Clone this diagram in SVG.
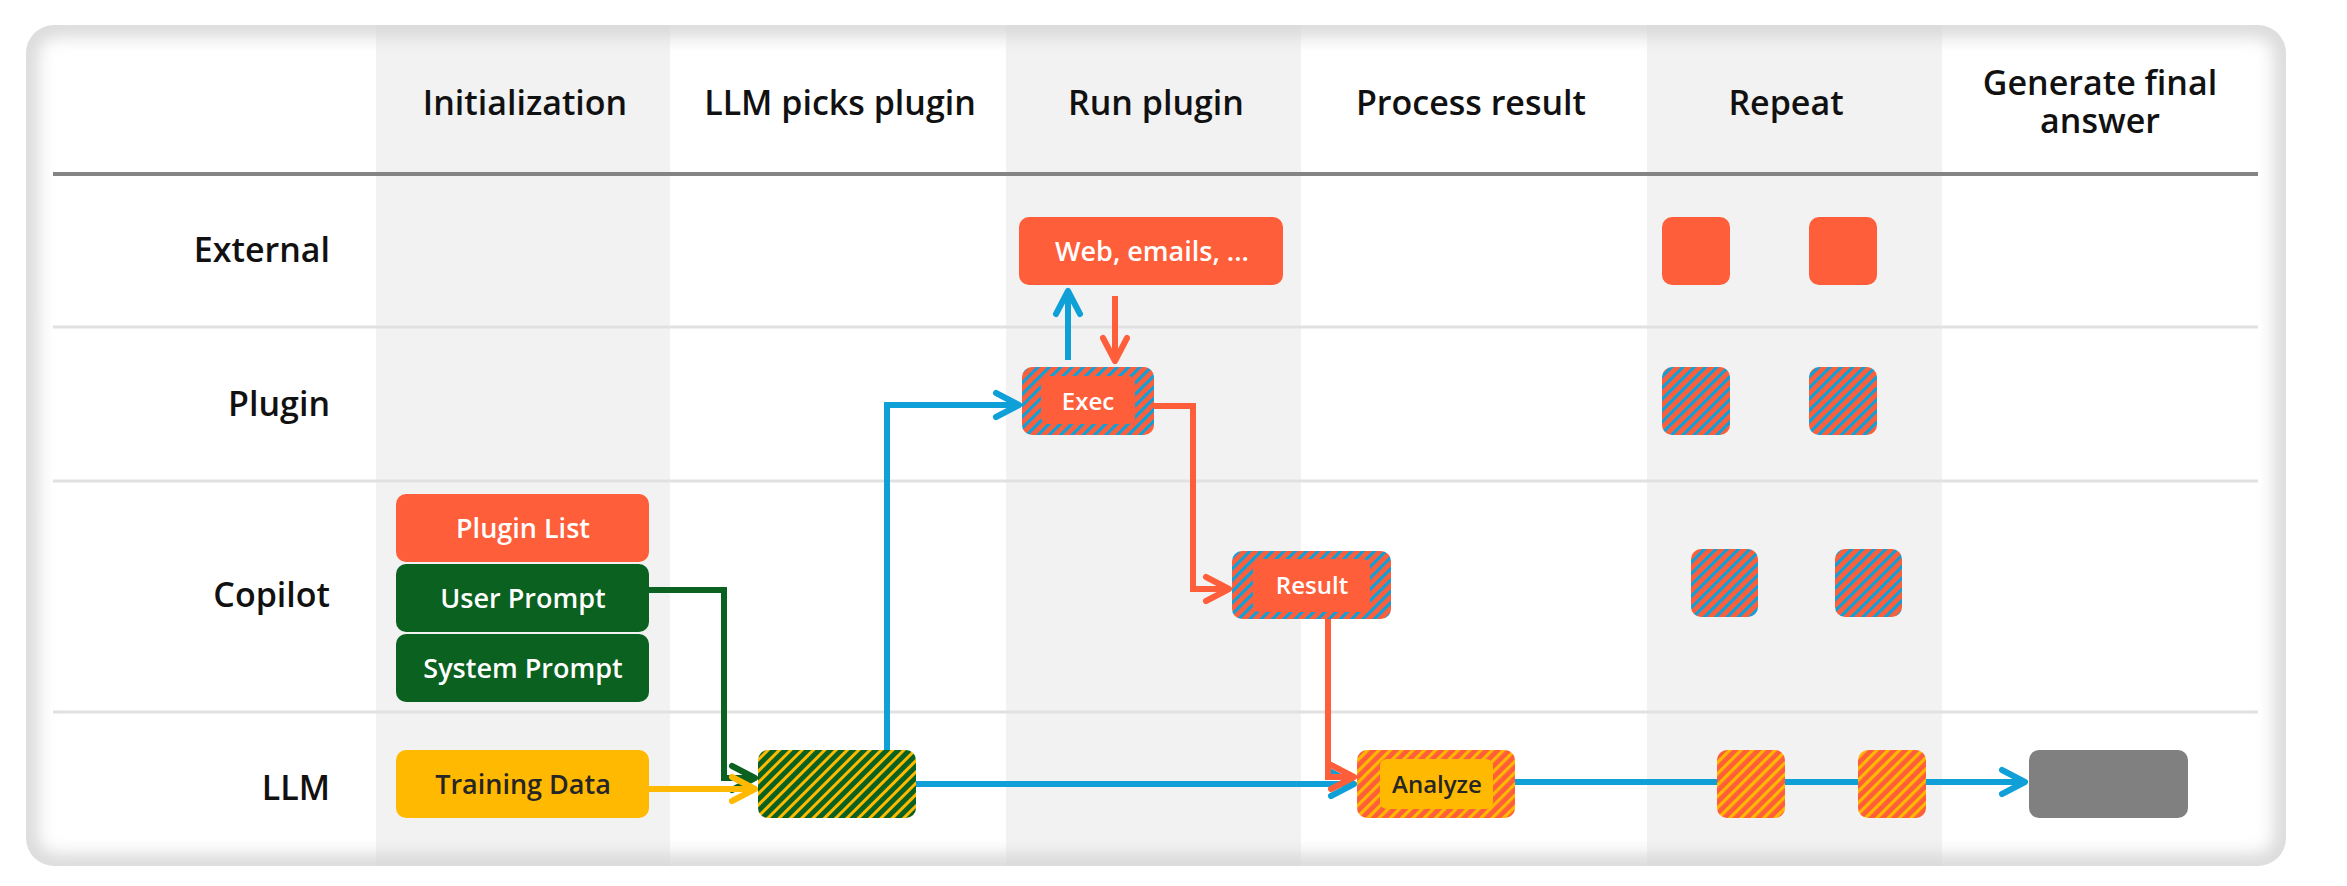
<svg xmlns="http://www.w3.org/2000/svg" width="2347" height="886" viewBox="0 0 2347 886">
<style>
.t{font-family:"Open Sans","Noto Sans","Liberation Sans",sans-serif;font-weight:600}
.hdr{font-size:34px;fill:#111;text-anchor:middle}
.row{font-size:34px;fill:#111;text-anchor:end}
.lbl{font-size:27px;fill:#fff;text-anchor:middle}
.sm{font-size:24px}
.dk{fill:#262626}
.col{fill:#f2f2f2}
.div{stroke:#e1e1e1;stroke-width:3;fill:none}
.hl{stroke:#848484;stroke-width:4;fill:none}
.c{fill:none;stroke-width:6}
.or{fill:#FF5E3A}
.gr{fill:#0B6120}
.ye{fill:#FFB900}
.gy{fill:#808080}
</style>
<defs>
<clipPath id="cardClip"><rect x="26" y="25" width="2260" height="841" rx="28"/></clipPath>
<filter id="blur" x="-5%" y="-8%" width="110%" height="116%"><feGaussianBlur stdDeviation="9"/></filter>
<pattern id="hGreen" patternUnits="userSpaceOnUse" width="8" height="8" patternTransform="rotate(45)"><rect width="8" height="8" fill="#0B6120"/><rect width="3" height="8" fill="#FFB900"/></pattern>
<pattern id="hBlue" patternUnits="userSpaceOnUse" width="8" height="8" patternTransform="rotate(45)"><rect width="8" height="8" fill="#FF5E3A"/><rect width="3.2" height="8" fill="#10A0D8"/></pattern>
<pattern id="hYellow" patternUnits="userSpaceOnUse" width="8" height="8" patternTransform="rotate(45)"><rect width="8" height="8" fill="#FF5E3A"/><rect width="3.2" height="8" fill="#FFB900"/></pattern>
<marker id="aBlue" markerUnits="userSpaceOnUse" viewBox="-30 -16 36 32" refX="0" refY="0" markerWidth="36" markerHeight="32" orient="auto"><path d="M-23 -12 L0 0 L-23 12" fill="none" stroke="#10A0D8" stroke-width="6" stroke-linecap="round" stroke-linejoin="round"/></marker>
<marker id="aOrange" markerUnits="userSpaceOnUse" viewBox="-30 -16 36 32" refX="0" refY="0" markerWidth="36" markerHeight="32" orient="auto"><path d="M-23 -12 L0 0 L-23 12" fill="none" stroke="#FF5E3A" stroke-width="6" stroke-linecap="round" stroke-linejoin="round"/></marker>
<marker id="aGreen" markerUnits="userSpaceOnUse" viewBox="-30 -16 36 32" refX="0" refY="0" markerWidth="36" markerHeight="32" orient="auto"><path d="M-23 -12 L0 0 L-23 12" fill="none" stroke="#0B6120" stroke-width="6" stroke-linecap="round" stroke-linejoin="round"/></marker>
<marker id="aYellow" markerUnits="userSpaceOnUse" viewBox="-30 -16 36 32" refX="0" refY="0" markerWidth="36" markerHeight="32" orient="auto"><path d="M-23 -12 L0 0 L-23 12" fill="none" stroke="#FFB900" stroke-width="6" stroke-linecap="round" stroke-linejoin="round"/></marker>
</defs>

<g id="card">
<rect x="26" y="25" width="2260" height="841" rx="28" fill="#fff"/>
<g clip-path="url(#cardClip)">
<rect class="col" x="376" y="25" width="294" height="841"/>
<rect class="col" x="1006" y="25" width="295" height="841"/>
<rect class="col" x="1647" y="25" width="295" height="841"/>
<rect x="26" y="25" width="2260" height="841" rx="28" fill="none" stroke="#d6d6d6" stroke-width="22" filter="url(#blur)"/>
</g>
</g>

<g id="grid">
<path class="hl" d="M53 174 H2258"/>
<path class="div" d="M53 327 H2258 M53 481 H2258 M53 712 H2258"/>
</g>

<g id="headers" class="t hdr">
<text x="525" y="115">Initialization</text>
<text x="840" y="115">LLM picks plugin</text>
<text x="1156" y="115">Run plugin</text>
<text x="1471" y="115">Process result</text>
<text x="1786" y="115">Repeat</text>
<text x="2100" y="95">Generate final<tspan x="2100" dy="38">answer</tspan></text>
</g>

<g id="rowlabels" class="t row">
<text x="330" y="262">External</text>
<text x="330" y="416">Plugin</text>
<text x="330" y="607">Copilot</text>
<text x="330" y="800">LLM</text>
</g>

<g id="connectors">
<path class="c" stroke="#0B6120" d="M649 590 H724 V778 H755" marker-end="url(#aGreen)"/>
<path class="c" stroke="#FFB900" d="M649 789 H755" marker-end="url(#aYellow)"/>
<path class="c" stroke="#10A0D8" d="M887 760 V405 H1019" marker-end="url(#aBlue)"/>
<path class="c" stroke="#10A0D8" d="M1068 360 V291" marker-end="url(#aBlue)"/>
<path class="c" stroke="#FF5E3A" d="M1115 296 V361" marker-end="url(#aOrange)"/>
<path class="c" stroke="#FF5E3A" d="M1150 406 H1193 V589 H1229" marker-end="url(#aOrange)"/>
<path class="c" stroke="#10A0D8" d="M905 784 H1354" marker-end="url(#aBlue)"/>
<path class="c" stroke="#FF5E3A" d="M1328 615 V777 H1354" marker-end="url(#aOrange)"/>
<path class="c" stroke="#10A0D8" d="M1510 782 H2025" marker-end="url(#aBlue)"/>
</g>

<g id="node-web">
<rect class="or" x="1019" y="217" width="264" height="68" rx="10"/>
<text class="t lbl" x="1152" y="261">Web, emails, ...</text>
</g>
<g id="node-ext-repeat-1"><rect class="or" x="1662" y="217" width="68" height="68" rx="10"/></g>
<g id="node-ext-repeat-2"><rect class="or" x="1809" y="217" width="68" height="68" rx="10"/></g>

<g id="node-exec">
<rect x="1022" y="367" width="132" height="68" rx="10" fill="url(#hBlue)"/>
<rect class="or" x="1041" y="376" width="94" height="48" rx="7"/>
<text class="t lbl sm" x="1088" y="410">Exec</text>
</g>
<g id="node-plugin-repeat-1"><rect x="1662" y="367" width="68" height="68" rx="10" fill="url(#hBlue)"/></g>
<g id="node-plugin-repeat-2"><rect x="1809" y="367" width="68" height="68" rx="10" fill="url(#hBlue)"/></g>

<g id="node-plugin-list">
<rect class="or" x="396" y="494" width="253" height="68" rx="10"/>
<text class="t lbl" x="523" y="538">Plugin List</text>
</g>
<g id="node-user-prompt">
<rect class="gr" x="396" y="564" width="253" height="68" rx="10"/>
<text class="t lbl" x="523" y="608">User Prompt</text>
</g>
<g id="node-system-prompt">
<rect class="gr" x="396" y="634" width="253" height="68" rx="10"/>
<text class="t lbl" x="523" y="678">System Prompt</text>
</g>

<g id="node-result">
<rect x="1232" y="551" width="159" height="68" rx="10" fill="url(#hBlue)"/>
<rect class="or" x="1253" y="559" width="117" height="53" rx="7"/>
<text class="t lbl sm" x="1312" y="594">Result</text>
</g>
<g id="node-copilot-repeat-1"><rect x="1691" y="549" width="67" height="68" rx="10" fill="url(#hBlue)"/></g>
<g id="node-copilot-repeat-2"><rect x="1835" y="549" width="67" height="68" rx="10" fill="url(#hBlue)"/></g>

<g id="node-training-data">
<rect class="ye" x="396" y="750" width="253" height="68" rx="10"/>
<text class="t lbl dk" x="523" y="794">Training Data</text>
</g>
<g id="node-llm-pick"><rect x="758" y="750" width="158" height="68" rx="10" fill="url(#hGreen)"/></g>
<g id="node-analyze">
<rect x="1357" y="750" width="158" height="68" rx="10" fill="url(#hYellow)"/>
<rect class="ye" x="1380" y="759" width="113" height="50" rx="7"/>
<text class="t lbl sm dk" x="1437" y="793">Analyze</text>
</g>
<g id="node-llm-repeat-1"><rect x="1717" y="750" width="68" height="68" rx="10" fill="url(#hYellow)"/></g>
<g id="node-llm-repeat-2"><rect x="1858" y="750" width="68" height="68" rx="10" fill="url(#hYellow)"/></g>
<g id="node-final"><rect class="gy" x="2029" y="750" width="159" height="68" rx="10"/></g>
</svg>
